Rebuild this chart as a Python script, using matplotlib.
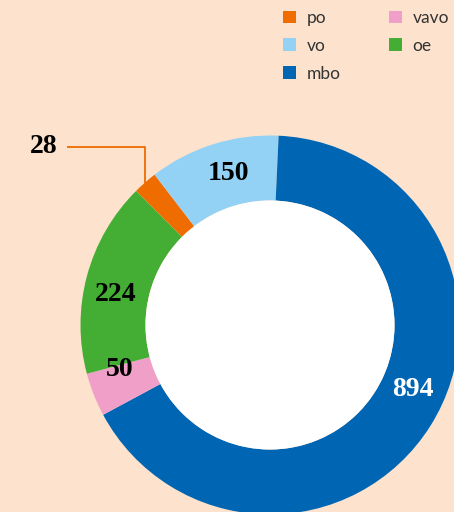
import numpy as np
import matplotlib
matplotlib.use("AGG")
from matplotlib import pyplot as plt
from matplotlib.patches import Circle

# data
labels = ["po", "vo", "mbo", "vavo", "oe"]
values = [28, 150, 894, 50, 224]
colors = ["#ee6c00", "#94d2f5", "#0066b3", "#f0a0c8", "#44ad34"]
label_colors = ["black", "black", "white", "black", "black"]
# label shift along the ring (degrees, clockwise) - mbo label is not at the wedge middle
label_shift = [0, 2, -8, 5, -4]

bg = "#fde3cd"
W, H = 454, 512
cx, cy = 270, H - 325
r_out, r_in = 189.5, 124.5

fig = plt.figure(figsize=(W / 100, H / 100), dpi=100, facecolor=bg)
ax = fig.add_axes([0, 0, 1, 1])
ax.set_facecolor(bg)

wedges, _ = ax.pie(values, colors=colors, radius=r_out, center=(cx, cy),
                   startangle=135, counterclock=False, frame=True,
                   wedgeprops=dict(width=r_out - r_in, linewidth=0))
ax.add_patch(Circle((cx, cy), r_in, facecolor="white", edgecolor="none"))

r_mid = (r_out + r_in) / 2
for i, w in enumerate(wedges):
    if labels[i] == "po":
        continue
    ang = np.deg2rad((w.theta1 + w.theta2) / 2 - label_shift[i])
    ax.text(cx + r_mid * np.cos(ang), cy + r_mid * np.sin(ang), str(values[i]),
            ha="center", va="center", fontsize=20, fontweight="bold",
            family="Liberation Serif", color=label_colors[i])

# small slice: leader line
w = wedges[0]
ang = np.deg2rad((w.theta1 + w.theta2) / 2)
ex, ey = cx + r_out * np.cos(ang), cy + r_out * np.sin(ang)
ax.plot([ex, ex, ex - 78], [ey, ey + 36, ey + 36], color=colors[0], lw=1.3,
        solid_capstyle="butt")
ax.text(ex - 88, ey + 36, str(values[0]), ha="right", va="center", fontsize=20,
        fontweight="bold", family="Liberation Serif", color="black")

leg = ax.legend(wedges, labels, ncol=2, loc="upper left",
                bbox_to_anchor=(283 / W, 1 - 10 / H), frameon=False,
                prop=dict(family="Lato", size=12.5), handlelength=0.75,
                handleheight=0.75, handletextpad=0.6, columnspacing=2.8,
                labelspacing=0.68, borderpad=0, borderaxespad=0)
for t in leg.get_texts():
    t.set_color("#333333")

ax.set_xlim(0, W)
ax.set_ylim(0, H)
ax.set_aspect("equal")
ax.axis("off")

plt.savefig("out.png", dpi=100, facecolor=bg)
